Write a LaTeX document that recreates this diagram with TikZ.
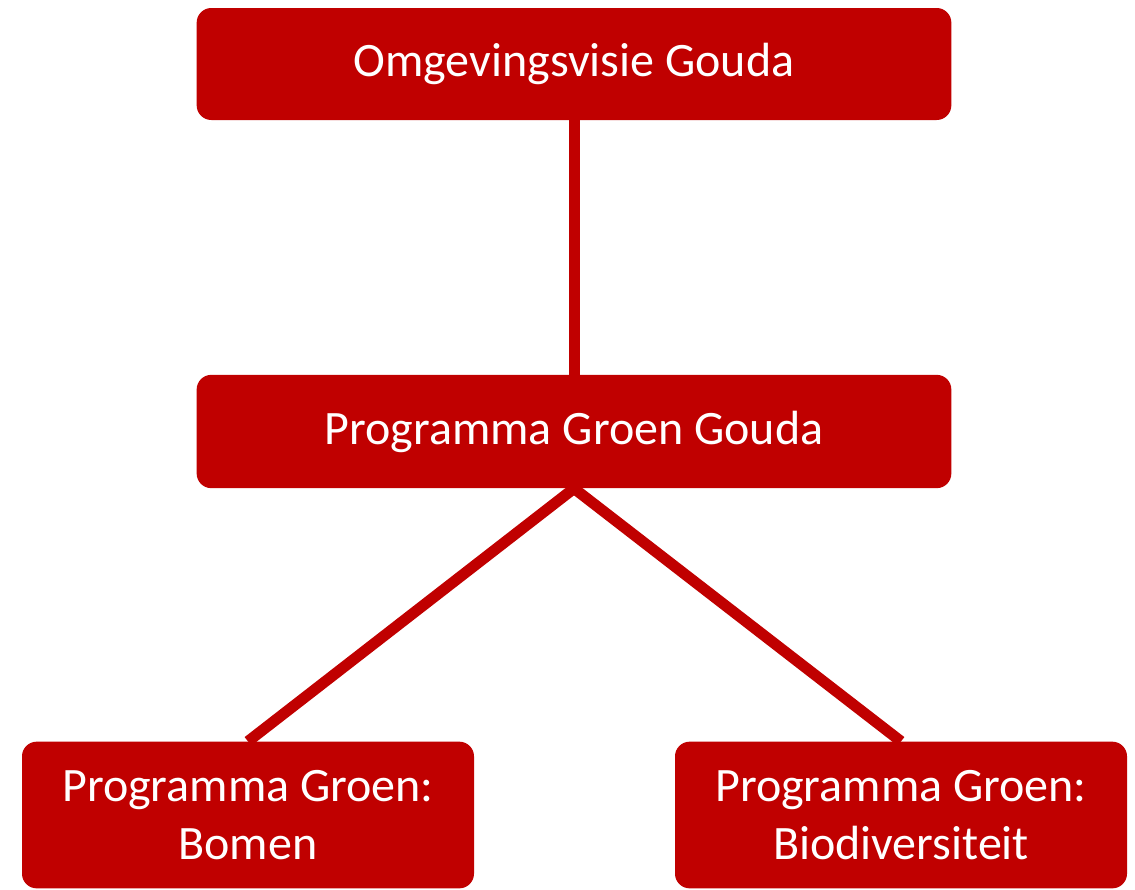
\documentclass[tikz,border=0pt]{standalone}
\usepackage{fontspec}
\setmainfont{Carlito}
\usetikzlibrary{positioning,backgrounds}
\definecolor{goudarood}{HTML}{C00000}
\tikzset{
	%Define style for boxes
	blok/.style={
		rectangle,
		rounded corners=11pt,
		fill=goudarood,
		text=white,
		font=\fontsize{36}{43}\selectfont,
		align=center,
		inner sep=0pt},
	verbind/.style={draw=goudarood, line width=8.25pt}
}

\begin{document}
\begin{tikzpicture}[x=0.75pt,y=-0.75pt]
	\useasboundingbox (0,0) rectangle (1135,889);
	\node[blok, minimum width=566pt, minimum height=84pt] (visie) at (574,64) {\raisebox{-2pt}{Omgevingsvisie Gouda}};
	\node[blok, minimum width=566pt, minimum height=85pt] (groen) at (574,431.5) {\raisebox{-2pt}{Programma Groen Gouda}};
	\node[blok, minimum width=339pt, minimum height=110pt] (bomen) at (248,815) {Programma Groen:\\Bomen};
	\node[blok, minimum width=339pt, minimum height=110pt] (bio) at (901,815) {Programma Groen:\\Biodiversiteit};
	\begin{scope}[on background layer]
	\draw[verbind] (visie.south) -- (groen.north);
	\draw[verbind] (groen.south) -- (bomen.north);
	\draw[verbind] (groen.south) -- (bio.north);
	\end{scope}
\end{tikzpicture}
\end{document}
